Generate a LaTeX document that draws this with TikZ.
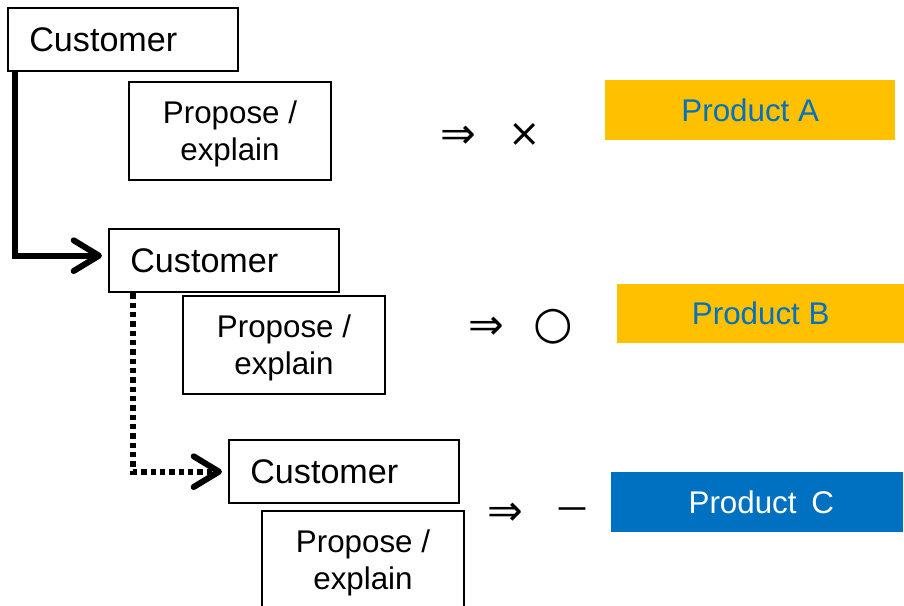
\documentclass[tikz,border=0pt]{standalone}
\usepackage{fontspec}
\setmainfont{Liberation Sans}
\newfontfamily\symfont{DejaVu Sans}
\newfontfamily\symfontheavy[FakeBold=1.2]{DejaVu Sans}
\usetikzlibrary{arrows.meta}
\definecolor{prodorange}{HTML}{FFC000}
\definecolor{prodblue}{HTML}{0070C0}
% strut that lowers a two-line label to sit centred on its line boxes
\newcommand{\toplift}{\rule{0pt}{21.5pt}}

\begin{document}
\begin{tikzpicture}[x=0.75pt,y=-0.75pt,
  custbox/.style={draw, line width=1.5pt, rectangle, anchor=north west,
    inner xsep=16pt, inner ysep=0pt, text width=140.5pt, align=left,
    minimum height=47.5pt, font=\fontsize{25.6}{30}\selectfont},
  propbox/.style={draw, line width=1.5pt, rectangle, anchor=north west,
    inner sep=0pt, minimum width=151.5pt, minimum height=73.5pt,
    align=center, font=\fontsize{23.5}{27.75}\selectfont},
  prodbox/.style={fill=prodorange, rectangle, anchor=north west, inner sep=0pt,
    minimum width=217.5pt, minimum height=45pt, text=prodblue,
    font=\fontsize{23.5}{28}\selectfont},
  symb/.style={inner sep=0pt, font=\symfont\fontsize{32}{36}\selectfont},
  flow/.style={line width=4.5pt, shorten >=4.5pt,
    -{Straight Barb[round, length=19pt, width=23pt]}},
]
\useasboundingbox (0,0) rectangle (904,606);

% customer / proposal steps
\node[custbox] (c1) at (7,7) {Customer};
\node[propbox] (p1) at (128,81) {\toplift Propose /\\explain};
\node[custbox] (c2) at (108,228) {Customer};
\node[propbox] (p2) at (182,295) {\toplift Propose /\\explain};
\node[custbox] (c3) at (228,439) {Customer};
\node[propbox] (p3) at (261,510) {\toplift Propose /\\explain};

% results
\node[symb] (r1) at (458,137) {⇒};
\node[symb, font=\symfont\fontsize{29}{34}\selectfont] (s1) at (525,135) {×};
\node[symb] (r2) at (486,328) {⇒};
\node[symb, font=\symfont\bfseries\fontsize{34}{38}\selectfont] (s2) at (553,327) {○};
\node[symb] (r3) at (505,514) {⇒};
\node[symb, font=\symfontheavy\fontsize{22}{26}\selectfont] (s3) at (572,512) {—};

% products
\node[prodbox] (pa) at (605,80) {Product A};
\node[prodbox, minimum width=215.25pt, minimum height=44.25pt] (pb) at (617,284) {Product B};
\node[prodbox, fill=prodblue, text=white, minimum width=219pt] (pc) at (611,472) {\hspace{6pt}Product\hspace{11pt}C};

% connectors
\draw[flow] ([xshift=6pt]c1.south west) |- ([yshift=3.75pt]c2.west);
\draw[flow, dash pattern=on 4pt off 3pt] ([xshift=18.75pt]c2.south west) |- (c3.west);
\end{tikzpicture}
\end{document}
